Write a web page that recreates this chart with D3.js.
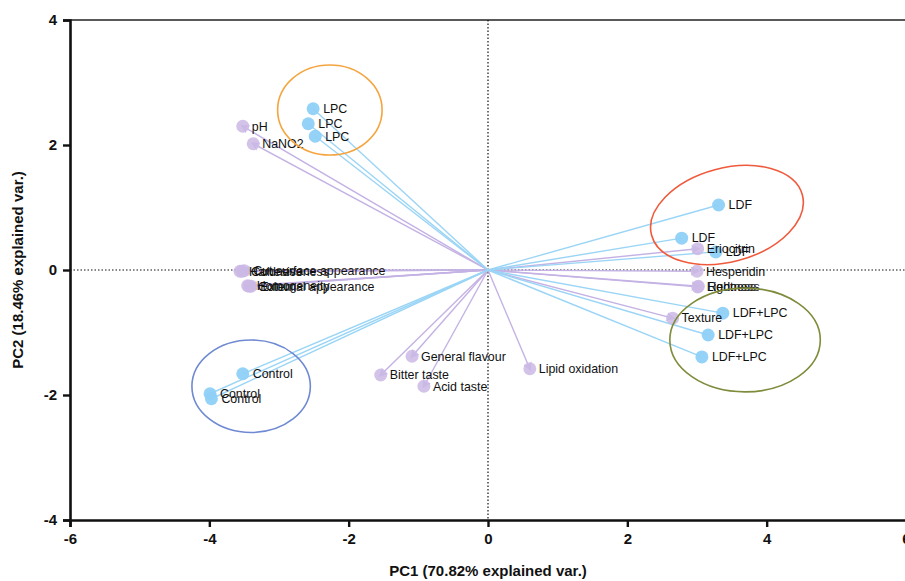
<!DOCTYPE html>
<html>
<head>
<meta charset="utf-8">
<script src="https://cdn.jsdelivr.net/npm/d3@7"></script>
<style>
  body { margin: 0; background: #fff; }
  text { font-family: "Liberation Sans", Arial, sans-serif; }
</style>
</head>
<body>
<div class="canvas"></div>
<script>
// samples (scores) - blue
const sampleNames = ["LPC", "LPC", "LPC", "LDF", "LDF", "LDF",
  "LDF+LPC", "LDF+LPC", "LDF+LPC", "Control", "Control", "Control"];
const samplePC1 = [-2.51, -2.58, -2.48, 3.31, 2.78, 3.27, 3.37, 3.16, 3.07, -3.52, -3.99, -3.97];
const samplePC2 = [2.58, 2.34, 2.14, 1.04, 0.51, 0.29, -0.69, -1.04, -1.39, -1.66, -1.98, -2.06];

// variables (loadings) - purple
const varNames = ["pH", "NaNO2", "Hardness", "Cohesiveness", "Cut surface appearance",
  "Homogeneity", "Colour", "External appearance", "General flavour", "Bitter taste",
  "Acid taste", "Lipid oxidation", "Texture", "Eriocitrin", "Hesperidin", "Lightness", "Redness"];
const varPC1 = [-3.52, -3.37, -3.56, -3.53, -3.50, -3.45, -3.43, -3.40, -1.09, -1.54, -0.92, 0.60, 2.65, 3.01, 3.00, 3.01, 3.02];
const varPC2 = [2.30, 2.02, -0.02, -0.02, -0.01, -0.25, -0.26, -0.26, -1.38, -1.68, -1.86, -1.58, -0.77, 0.34, -0.02, -0.27, -0.26];

// group ellipses (data units)
const groups = ["LPC", "LDF", "LDF+LPC", "Control"];
const groupCX = [-2.27, 3.43, 3.69, -3.40];
const groupCY = [2.56, 0.88, -1.12, -1.86];
const groupRX = [0.75, 1.12, 1.08, 0.85];
const groupRY = [0.72, 0.75, 0.83, 0.74];
const groupAngle = [0, -15, 0, 0];
const groupColor = ["#f5a540", "#ef5a3c", "#7e8c3c", "#6f8ad2"];

const xTicks = [-6, -4, -2, 0, 2, 4, 6];
const yTicks = [-4, -2, 0, 2, 4];

const width = 905, height = 581;
const margin = { left: 70, right: -1, top: 20, bottom: 61 };

const svg = d3.select(".canvas").append("svg")
  .attr("width", width).attr("height", height);

const x = d3.scaleLinear().domain([-6, 6]).range([margin.left, width - margin.right]);
const y = d3.scaleLinear().domain([-4, 4]).range([height - margin.bottom, margin.top]);

const blue = "#8fd0f7";
const blueLine = "#9bd5f6";
const purple = "#cbb9e5";
const purpleLine = "#c4b2e4";

svg.append("defs").append("marker")
  .attr("id", "arrow")
  .attr("viewBox", "0 0 10 10")
  .attr("refX", 7).attr("refY", 5)
  .attr("markerWidth", 9).attr("markerHeight", 9)
  .attr("markerUnits", "userSpaceOnUse")
  .attr("orient", "auto")
  .append("path")
  .attr("d", "M0,0L10,5L0,10L3,5Z")
  .attr("fill", purpleLine);

// frame top line
svg.append("line")
  .attr("x1", x(-6)).attr("x2", x(6))
  .attr("y1", y(4)).attr("y2", y(4))
  .attr("stroke", "#222").attr("stroke-width", 1.5);

// dotted zero lines
svg.append("line")
  .attr("x1", x(-6)).attr("x2", x(6)).attr("y1", y(0)).attr("y2", y(0))
  .attr("stroke", "#111").attr("stroke-width", 1.2).attr("stroke-dasharray", "1.5,2");
svg.append("line")
  .attr("x1", x(0)).attr("x2", x(0)).attr("y1", y(4)).attr("y2", y(-4))
  .attr("stroke", "#111").attr("stroke-width", 1.2).attr("stroke-dasharray", "1.5,2");

const samples = sampleNames.map((n, i) => ({ name: n, pc1: samplePC1[i], pc2: samplePC2[i] }));
const vars = varNames.map((n, i) => ({ name: n, pc1: varPC1[i], pc2: varPC2[i] }));

// variable arrows
svg.append("g").selectAll("line").data(vars).join("line")
  .attr("x1", x(0)).attr("y1", y(0))
  .attr("x2", (d) => x(d.pc1)).attr("y2", (d) => y(d.pc2))
  .attr("stroke", purpleLine).attr("stroke-width", 1.4)
  .attr("marker-end", "url(#arrow)");

// sample lines
svg.append("g").selectAll("line").data(samples).join("line")
  .attr("x1", x(0)).attr("y1", y(0))
  .attr("x2", (d) => x(d.pc1)).attr("y2", (d) => y(d.pc2))
  .attr("stroke", blueLine).attr("stroke-width", 1.4);

svg.append("g").selectAll("circle").data(vars).join("circle")
  .attr("cx", (d) => x(d.pc1)).attr("cy", (d) => y(d.pc2))
  .attr("r", 6.5).attr("fill", purple).attr("fill-opacity", 0.85);

svg.append("g").selectAll("circle").data(samples).join("circle")
  .attr("cx", (d) => x(d.pc1)).attr("cy", (d) => y(d.pc2))
  .attr("r", 6.5).attr("fill", blue).attr("fill-opacity", 0.95);

const labels = svg.append("g").attr("font-size", 12.4).attr("fill", "#111");
labels.selectAll("text.v").data(vars).join("text").attr("class", "v")
  .attr("x", (d) => x(d.pc1) + 9).attr("y", (d) => y(d.pc2))
  .attr("dy", "0.35em").text((d) => d.name);
labels.selectAll("text.s").data(samples).join("text").attr("class", "s")
  .attr("x", (d) => x(d.pc1) + 10).attr("y", (d) => y(d.pc2))
  .attr("dy", "0.35em").text((d) => d.name);

// ellipses
const ell = groups.map((g, i) => ({ name: g, cx: groupCX[i], cy: groupCY[i], rx: groupRX[i], ry: groupRY[i], a: groupAngle[i], c: groupColor[i] }));
svg.append("g").selectAll("ellipse").data(ell).join("ellipse")
  .attr("transform", (d) => `translate(${x(d.cx)},${y(d.cy)}) rotate(${d.a})`)
  .attr("rx", (d) => x(d.rx) - x(0)).attr("ry", (d) => y(0) - y(d.ry))
  .attr("fill", "none").attr("stroke", (d) => d.c).attr("stroke-width", 1.6);

// axes
const xAxis = svg.append("g")
  .attr("transform", `translate(0,${y(-4)})`)
  .call(d3.axisBottom(x).tickValues(xTicks).tickSize(7).tickPadding(6).tickFormat(d3.format("d")));
const yAxis = svg.append("g")
  .attr("transform", `translate(${x(-6)},0)`)
  .call(d3.axisLeft(y).tickValues(yTicks).tickSize(7).tickPadding(6).tickFormat(d3.format("d")));
[xAxis, yAxis].forEach((a) => {
  a.select(".domain").attr("stroke", "#111").attr("stroke-width", 2.6);
  a.selectAll(".tick line").attr("stroke", "#111").attr("stroke-width", 2.4);
  a.selectAll(".tick text")
    .attr("font-family", "'Liberation Sans', Arial, sans-serif")
    .attr("font-size", 15).attr("font-weight", "bold").attr("fill", "#111");
});
xAxis.selectAll(".tick text").text((d) => (d < 0 ? "-" + Math.abs(d) : d));
yAxis.selectAll(".tick text").text((d) => (d < 0 ? "-" + Math.abs(d) : d));

svg.append("text")
  .attr("x", x(0)).attr("y", 576)
  .attr("text-anchor", "middle").attr("font-size", 15).attr("font-weight", "bold")
  .attr("fill", "#111").text("PC1 (70.82% explained var.)");
svg.append("text")
  .attr("transform", `translate(23,${y(0)}) rotate(-90)`)
  .attr("text-anchor", "middle").attr("font-size", 15).attr("font-weight", "bold")
  .attr("fill", "#111").text("PC2 (18.46% explained var.)");
</script>
</body>
</html>
